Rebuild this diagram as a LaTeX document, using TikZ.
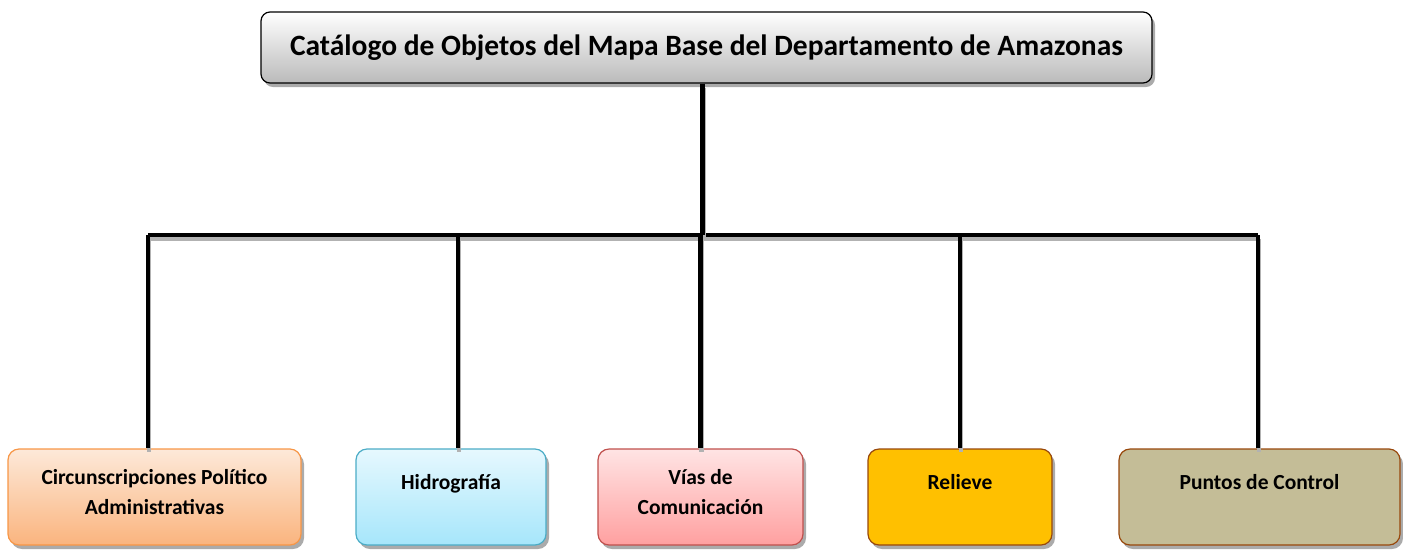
\documentclass[tikz,border=0pt]{standalone}
\usepackage{fontspec}
\setmainfont{Carlito}
\usetikzlibrary{positioning,shadows}

\definecolor{orangeTop}{HTML}{FDE9D9}
\definecolor{orangeBot}{HTML}{FAB47E}
\definecolor{orangeLine}{HTML}{F79646}
\definecolor{blueTop}{HTML}{E6F8FE}
\definecolor{blueBot}{HTML}{A6E6FB}
\definecolor{blueLine}{HTML}{4BACC6}
\definecolor{redTop}{HTML}{FFE4E4}
\definecolor{redBot}{HTML}{FFA0A0}
\definecolor{redLine}{HTML}{C0504D}
\definecolor{goldFill}{HTML}{FFC000}
\definecolor{khakiFill}{HTML}{C4BD97}
\definecolor{brownLine}{HTML}{98480C}

\tikzset{
  catbox/.style={draw, rounded corners=11pt, line width=1.2pt,
    drop shadow={shadow xshift=3pt, shadow yshift=-4pt, fill=black!55, opacity=.6}},
  catlabel/.style={font=\bfseries\fontsize{21.5}{30}\selectfont, align=center,
    inner sep=0pt, anchor=north},
  wire/.style={line width=4.5pt,
    preaction={draw=black!30, line width=4.5pt, transform canvas={shift={(1pt,-4pt)}}}},
}

\begin{document}
\begin{tikzpicture}[x=1pt,y=-1pt]
			%%%%% START %%%%%
			\useasboundingbox (0,0) rectangle (1403,550);
			
			% title
			\node[catbox, top color=white, bottom color=black!27, rounded corners=9pt,
			  minimum width=891pt, minimum height=71pt,
			  font=\bfseries\fontsize{29.5}{32}\selectfont] (catalog) at (706.5,47.5)
			  {Catálogo de Objetos del Mapa Base del Departamento de Amazonas};
			
			% groups
			\node[catbox, draw=orangeLine, top color=orangeTop, bottom color=orangeBot,
			  minimum width=293pt, minimum height=96pt] (circ) at (154.5,497) {};
			\node[catbox, draw=blueLine, top color=blueTop, bottom color=blueBot,
			  minimum width=190pt, minimum height=96pt] (hidro) at (451,497) {};
			\node[catbox, draw=redLine, top color=redTop, bottom color=redBot,
			  minimum width=205pt, minimum height=96pt] (vias) at (700.5,497) {};
			\node[catbox, draw=brownLine, fill=goldFill,
			  minimum width=184pt, minimum height=96pt] (relieve) at (960,497) {};
			\node[catbox, draw=brownLine, fill=khakiFill,
			  minimum width=281pt, minimum height=96pt] (puntos) at (1259.5,497) {};
			
			\node[catlabel] (circ-t) at ([yshift=-21pt]circ.north) {Circunscripciones Político\\Administrativas};
			\node[catlabel] (hidro-t) at ([yshift=-26pt]hidro.north) {Hidrografía};
			\node[catlabel] (vias-t) at ([yshift=-21pt]vias.north) {Vías de\\Comunicación};
			\node[catlabel] (relieve-t) at ([yshift=-26pt]relieve.north) {Relieve};
			\node[catlabel] (puntos-t) at ([yshift=-26pt]puntos.north) {Puntos de Control};
			
			% connectors
			\coordinate (busL) at (148,235);
			\coordinate (busR) at (1258,235);
			\draw[wire] (busL) -- (busR);
			\draw[wire] ([xshift=-4pt]catalog.south) -- ([xshift=-4pt]catalog.south |- busL);
			\draw[wire] (busL) -- (busL |- circ.north);
			\draw[wire] ([xshift=7pt]hidro.north |- busL) -- ([xshift=7pt]hidro.north);
			\draw[wire] (vias.north |- busL) -- (vias.north);
			\draw[wire] (relieve.north |- busL) -- (relieve.north);
			\draw[wire] (busR) -- (busR |- puntos.north);
			
			%%%%% END %%%%%
\end{tikzpicture}
\end{document}
